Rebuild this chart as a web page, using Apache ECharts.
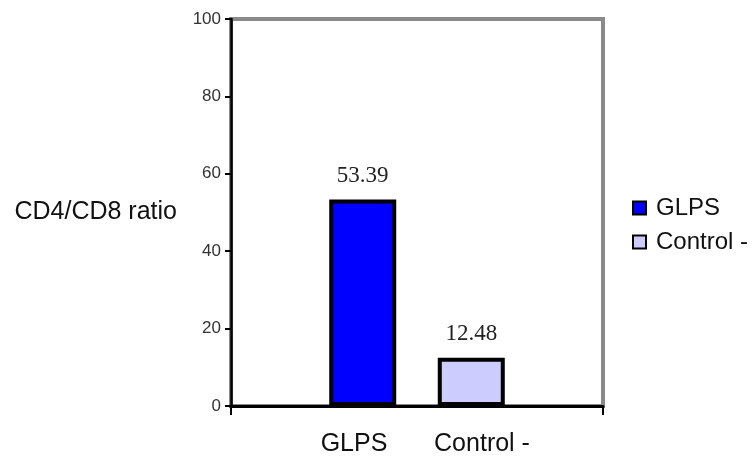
<!DOCTYPE html>
<html>
<head>
<meta charset="utf-8">
<script src="https://cdn.jsdelivr.net/npm/echarts@6/dist/echarts.min.js"></script>
<style>
html,body{margin:0;padding:0;background:#fff;}
#chart{width:754px;height:457px;}
</style>
</head>
<body>
<div id="chart"></div>
<script>
const categories = ['GLPS', 'Control -'];
const seriesNames = ['GLPS', 'Control -'];
const glpsValues = [53.39];
const controlValues = [12.48];
const yTicks = [0, 20, 40, 60, 80, 100];
const yAxisTitle = 'CD4/CD8 ratio';

const sans = '"Liberation Sans", Arial, sans-serif';
const serif = '"Liberation Serif", "Times New Roman", serif';

const chart = echarts.init(document.getElementById('chart'));
chart.setOption({
  animation: false,
  backgroundColor: '#fff',
  grid: [
    { left: 231, top: 19, width: 372, bottom: 51, show: true, borderColor: '#8a8a8a', borderWidth: 4, backgroundColor: 'transparent' },
    { left: 290, top: 19, width: 256, bottom: 51, show: false }
  ],
  legend: {
    orient: 'vertical',
    left: 627,
    top: 191,
    itemWidth: 13,
    itemHeight: 13,
    itemGap: 10,
    icon: 'rect',
    data: seriesNames,
    itemStyle: { borderColor: '#000', borderWidth: 2 },
    textStyle: { fontFamily: sans, fontSize: 24, color: '#111', padding: [0, 0, 0, 5] }
  },
  xAxis: [
    {
      type: 'category',
      gridIndex: 0,
      data: [''],
      axisLine: { lineStyle: { color: '#000', width: 3 } },
      axisTick: { show: true, length: 9, lineStyle: { color: '#000', width: 2 } },
      axisLabel: { show: false }
    },
    {
      type: 'category',
      gridIndex: 1,
      data: categories,
      axisLine: { show: false },
      axisTick: { show: false },
      axisLabel: { margin: 28, fontFamily: sans, fontSize: 25, color: '#111' }
    }
  ],
  yAxis: [
    {
      type: 'value',
      gridIndex: 0,
      min: 0,
      max: 100,
      interval: 20,
      name: yAxisTitle,
      nameLocation: 'middle',
      nameRotate: 0,
      nameGap: 54,
      nameTextStyle: { fontFamily: sans, fontSize: 25, color: '#111', align: 'right' },
      axisLine: { show: true, lineStyle: { color: '#000', width: 2.5 } },
      axisTick: { show: true, inside: false, length: 6, lineStyle: { color: '#000', width: 2 } },
      axisLabel: {
        margin: 10, fontFamily: sans, fontSize: 17, color: '#333',
        formatter: v => (yTicks.indexOf(v) >= 0 ? String(v) : '')
      },
      splitLine: { show: false }
    },
    { type: 'value', gridIndex: 1, show: false, min: 0, max: 100 }
  ],
  series: [
    {
      name: seriesNames[0],
      type: 'bar',
      xAxisIndex: 0, yAxisIndex: 0,
      data: glpsValues,
      barWidth: 67,
      barGap: '62%',
      itemStyle: { color: '#0000ff', borderColor: '#000', borderWidth: 4 },
      label: { show: true, position: 'top', distance: 12, fontFamily: serif, fontSize: 23, color: '#222' }
    },
    {
      name: seriesNames[1],
      type: 'bar',
      xAxisIndex: 0, yAxisIndex: 0,
      data: controlValues,
      barWidth: 67,
      barGap: '62%',
      itemStyle: { color: '#ccccff', borderColor: '#000', borderWidth: 4 },
      label: { show: true, position: 'top', distance: 12, fontFamily: serif, fontSize: 23, color: '#222' }
    }
  ]
});
</script>
</body>
</html>
